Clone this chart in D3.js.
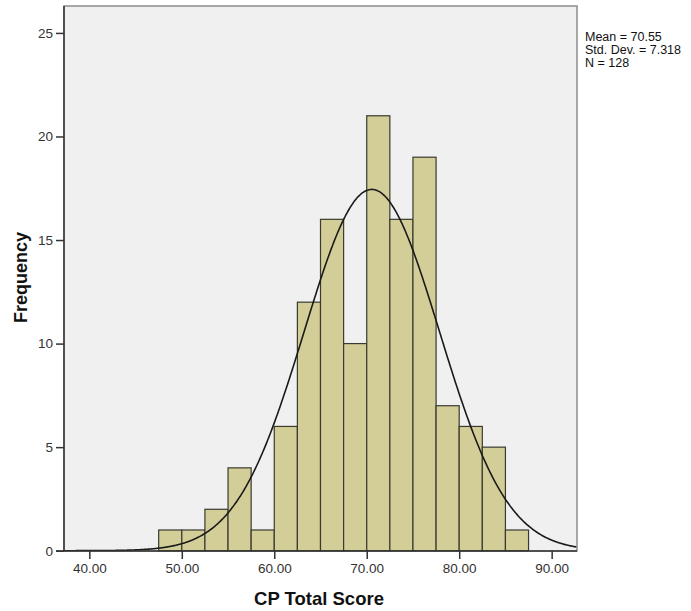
<!DOCTYPE html>
<html><head><meta charset="utf-8">
<script src="https://cdn.jsdelivr.net/npm/d3@7"></script>
<style>body{margin:0;background:#fff;}text{font-family:"Liberation Sans",Arial,sans-serif;}</style>
</head><body>
<svg id="c" width="691" height="611"></svg>
<script>
const binStarts = [47.5,50,52.5,55,57.5,60,62.5,65,67.5,70,72.5,75,77.5,80,82.5,85];
const counts = [1,1,2,4,1,6,12,16,10,21,16,19,7,6,5,1];
const binWidth = 2.5;
const xTicks = [40,50,60,70,80,90];
const yTicks = [0,5,10,15,20,25];
const mean = 70.55, sd = 7.318, n = 128;
const legendLines = ["Mean = 70.55","Std. Dev. = 7.318","N = 128"];

const svg = d3.select("#c");
const L=64,R=577,T=6,B=551;
const x = d3.scaleLinear().domain([37.26,92.74]).range([L,R]);
const y = d3.scaleLinear().domain([0,26.3]).range([B-0.3,T]);

svg.append("rect").attr("x",L).attr("y",T).attr("width",R-L).attr("height",B-T).attr("fill","#f0f0f0")
  .attr("stroke","#8c8c8c").attr("stroke-width",1.5);

svg.append("clipPath").attr("id","cp").append("rect").attr("x",L).attr("y",T).attr("width",R-L).attr("height",B-T);

svg.append("g").selectAll("rect").data(binStarts).join("rect")
  .attr("x",(d)=>x(d)).attr("width",(d)=>x(d+binWidth)-x(d))
  .attr("y",(d,i)=>y(counts[i])).attr("height",(d,i)=>y(0)-y(counts[i]))
  .attr("fill","#d3ce97").attr("stroke","#3a3a30").attr("stroke-width",1.2);

const pts = d3.range(37.26,92.75,0.1).map(v=>[v, n*binWidth/(sd*Math.sqrt(2*Math.PI))*Math.exp(-0.5*((v-mean)/sd)**2)]);
svg.append("path").attr("clip-path","url(#cp)").datum(pts)
  .attr("d",d3.line().x(d=>x(d[0])).y(d=>y(d[1])).curve(d3.curveBasis))
  .attr("fill","none").attr("stroke","#1a1a1a").attr("stroke-width",1.6);

const yAxis = svg.append("g").attr("transform",`translate(${L},0)`)
  .call(d3.axisLeft(y).tickValues(yTicks).tickSize(8).tickPadding(3).tickFormat(d3.format("d")));
const xAxis = svg.append("g").attr("transform",`translate(0,${B})`)
  .call(d3.axisBottom(x).tickValues(xTicks).tickSize(8).tickPadding(4).tickFormat(d3.format(".2f")));
[yAxis,xAxis].forEach(g=>{
  g.select(".domain").attr("stroke","#333").attr("stroke-width",1.5);
  g.selectAll(".tick line").attr("stroke","#333").attr("stroke-width",1.5);
  g.selectAll(".tick text").attr("fill","#333").attr("font-size",13.5).attr("font-family","Liberation Sans, Arial, sans-serif");
});
yAxis.select(".domain").attr("d",`M0,${T}V${B}`);
xAxis.select(".domain").attr("d",`M${L-8},0H${R}`);

svg.append("text").attr("transform","translate(27,277.5) rotate(-90)").attr("text-anchor","middle")
  .attr("font-size",18).attr("font-weight","bold").attr("fill","#111").text("Frequency");
svg.append("text").attr("x",319).attr("y",605).attr("text-anchor","middle")
  .attr("font-size",18.5).attr("font-weight","bold").attr("fill","#111").text("CP Total Score");

svg.append("g").selectAll("text").data(legendLines).join("text")
  .attr("x",585).attr("y",(d,i)=>41+i*13).attr("font-size",12.5).attr("fill","#111").text(d=>d);
</script>
</body></html>
